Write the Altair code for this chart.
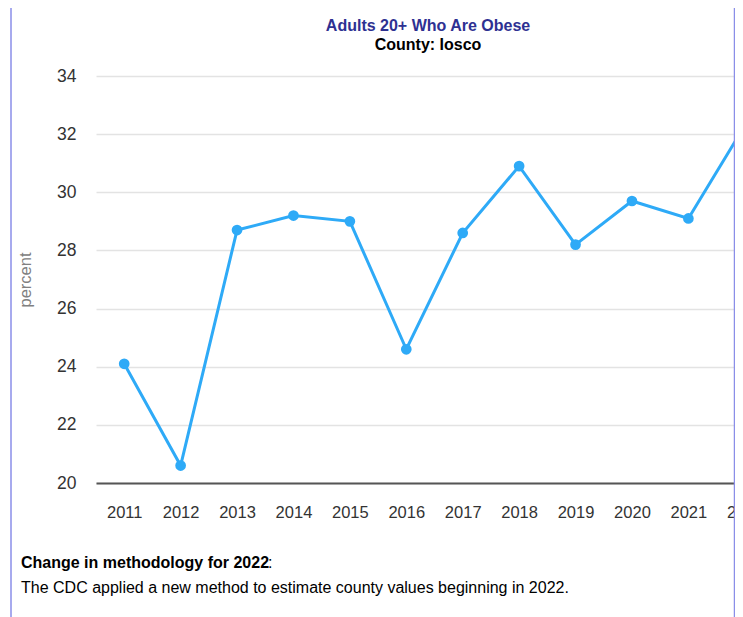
import altair as alt
import pandas as pd

years = [2011, 2012, 2013, 2014, 2015, 2016, 2017, 2018, 2019, 2020, 2021, 2022]
values = [24.1, 20.6, 28.7, 29.2, 29.0, 24.6, 28.6, 30.9, 28.2, 29.7, 29.1, 32.3]
y_ticks = [20, 22, 24, 26, 28, 30, 32, 34]

title_text = "Adults 20+ Who Are Obese"
subtitle_text = "County: Iosco"
note_head = "Change in methodology for 2022"
note_body = "The CDC applied a new method to estimate county values beginning in 2022."

df = pd.DataFrame({"year": years, "value": values})

FONT = "Liberation Sans"
BLUE = "#2eaaf7"

x_enc = alt.X(
    "year:Q",
    scale=alt.Scale(domain=[2010.5, 2022.5], range=[0, 677], nice=False, zero=False),
    axis=alt.Axis(
        values=years, format="d", title=None, grid=False, ticks=False,
        domain=True, domainColor="#555555", domainWidth=2,
        labelFont=FONT, labelFontSize=16.5, labelColor="#333333",
        labelPadding=21, labelFlush=False, labelOverlap=False,
    ),
)
y_enc = alt.Y(
    "value:Q",
    scale=alt.Scale(domain=[20, 34], nice=False, zero=False),
    axis=alt.Axis(
        values=y_ticks, title="percent", grid=True, gridColor="#e3e3e3", gridWidth=1.5,
        ticks=False, domain=False,
        labelFont=FONT, labelFontSize=17.5, labelColor="#333333", labelPadding=20,
        titleFont=FONT, titleFontSize=16.5, titleFontWeight="normal", titleColor="#808080",
        titlePadding=23,
    ),
)

base = alt.Chart(df)
line = base.mark_line(color=BLUE, strokeWidth=3).encode(x=x_enc, y=y_enc)
pts = base.mark_circle(color=BLUE, size=115, opacity=1).encode(x="year:Q", y="value:Q")

one = alt.Data(values=[{}])

def txt(text, x, y, size, weight, color, align="left"):
    return alt.Chart(one).mark_text(
        text=text, font=FONT, fontSize=size, fontWeight=weight, color=color,
        align=align, baseline="alphabetic",
    ).encode(x=alt.value(x), y=alt.value(y))

title = txt(title_text, 332, -45.5, 16, "bold", "#2e3192", "center")
subtitle = txt(subtitle_text, 332, -26.5, 16, "bold", "#000000", "center")
head = txt(note_head, -75, 492, 16, "bold", "#000000")
colon = txt(":", 172, 492, 16, "normal", "#000000")
body = txt(note_body, -75, 516.5, 16, "normal", "#000000")

left_rule = alt.Chart(one).mark_rule(color="#8a8ee8", strokeWidth=1.5).encode(
    x=alt.value(-85), y=alt.value(-68), y2=alt.value(545))
right_rule = alt.Chart(one).mark_rule(color="#8a8ee8", strokeWidth=1.5).encode(
    x=alt.value(638.5), y=alt.value(-68), y2=alt.value(545))

chart = alt.layer(
    line, pts, title, subtitle, head, colon, body, left_rule, right_rule
).properties(
    width=639, height=407,
    autosize=alt.AutoSizeParams(type="none"),
    padding={"left": 88, "top": 68, "right": 0, "bottom": 134},
    background="white",
).configure_view(stroke=None)

chart.save("out.html", embed_options={"renderer": "svg", "actions": False})
